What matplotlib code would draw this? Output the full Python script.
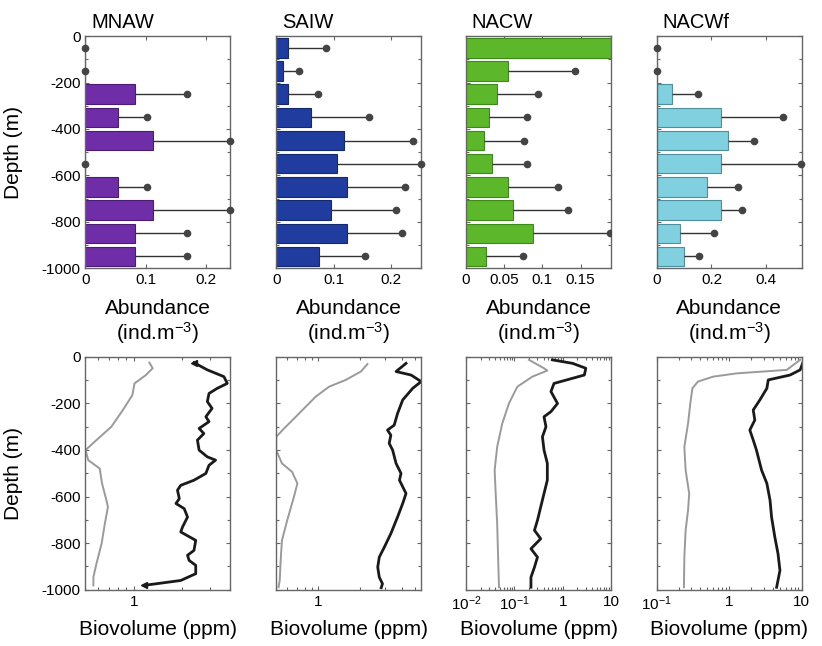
import matplotlib
matplotlib.use("Agg")
import matplotlib.pyplot as plt
import numpy as np
from matplotlib.ticker import MultipleLocator, FixedLocator, NullFormatter

plt.rcParams['font.family'] = ['Liberation Sans', 'DejaVu Sans']
plt.rcParams['mathtext.fontset'] = 'custom'
plt.rcParams['mathtext.rm'] = 'Liberation Sans'
plt.rcParams['mathtext.it'] = 'Liberation Sans'

# water masses
names = ['MNAW', 'SAIW', 'NACW', 'NACWf']
colors = ['#6f2da8', '#1f3c9e', '#5cb82a', '#80d0e0']
edges = ['#4a1d72', '#142a70', '#3e8a18', '#4f8f9c']

# top row: abundance per 100 m depth bin
bin_depth = [-50, -150, -250, -350, -450, -550, -650, -750, -850, -950]
abund_mnaw = [0, 0, 0.083, 0.054, 0.112, 0, 0.054, 0.112, 0.083, 0.083]
upper_mnaw = [0, 0, 0.169, 0.103, 0.241, 0, 0.103, 0.241, 0.169, 0.169]
abund_saiw = [0.021, 0.011, 0.021, 0.060, 0.117, 0.105, 0.123, 0.095, 0.123, 0.074]
upper_saiw = [0.087, 0.040, 0.072, 0.162, 0.238, 0.252, 0.223, 0.209, 0.219, 0.154]
abund_nacw = [0.20, 0.055, 0.040, 0.030, 0.023, 0.034, 0.055, 0.062, 0.088, 0.026]
upper_nacw = [0.30, 0.143, 0.094, 0.080, 0.076, 0.080, 0.120, 0.134, 0.189, 0.074]
abund_nacwf = [0, 0, 0.055, 0.236, 0.261, 0.236, 0.184, 0.236, 0.085, 0.099]
upper_nacwf = [0, 0, 0.152, 0.461, 0.355, 0.527, 0.297, 0.313, 0.210, 0.155]

abund = [abund_mnaw, abund_saiw, abund_nacw, abund_nacwf]
upper = [upper_mnaw, upper_saiw, upper_nacw, upper_nacwf]
abund_xlim = [0.241, 0.252, 0.19, 0.53]
abund_ticks = [[0, 0.1, 0.2], [0, 0.1, 0.2], [0, 0.05, 0.1, 0.15], [0, 0.2, 0.4]]
abund_ticklabels = [['0', '0.1', '0.2'], ['0', '0.1', '0.2'],
                    ['0', '0.05', '0.1', '0.15'], ['0', '0.2', '0.4']]

# bottom row: biovolume profiles (grey and black curves)
grey_d_mnaw = [26, 50, 79, 115, 165, 229, 301, 358, 401, 444, 480, 544, 616, 645, 716, 802, 888, 946, 981]
grey_v_mnaw = [1.25, 1.31, 1.19, 1.01, 0.98, 0.855, 0.724, 0.585, 0.5, 0.52, 0.613, 0.634, 0.675, 0.69, 0.66, 0.63, 0.585, 0.56, 0.56]
black_d_mnaw = [26, 57, 86, 115, 136, 158, 193, 222, 258, 279, 308, 330, 358, 401, 430, 444, 466, 501, 530, 552,
                573, 609, 630, 652, 688, 731, 752, 788, 831, 852, 874, 895, 931, 960, 981]
black_v_mnaw = [2.37, 2.87, 3.64, 3.82, 3.31, 2.94, 2.87, 3.07, 2.81, 2.94, 2.55, 2.73, 2.49, 2.55, 2.87, 3.23, 2.94, 2.81, 2.37, 1.96,
                1.87, 1.92, 1.83, 2.06, 2.16, 2.01, 1.96, 2.43, 2.37, 2.16, 2.21, 2.43, 2.43, 1.96, 1.16]

grey_d_saiw = [32, 64, 100, 129, 172, 244, 308, 344, 401, 458, 494, 544, 602, 702, 788, 860, 960, 989]
grey_v_saiw = [2.26, 2.03, 1.58, 1.20, 0.96, 0.73, 0.57, 0.5, 0.5, 0.55, 0.65, 0.71, 0.67, 0.60, 0.55, 0.54, 0.53, 0.52]
black_d_saiw = [29, 64, 79, 107, 136, 186, 244, 294, 315, 337, 372, 401, 458, 501, 530, 587, 630, 688, 759, 817, 860, 903, 946, 974, 991]
black_v_saiw = [4.28, 3.63, 4.65, 5.5, 4.78, 4.05, 3.72, 3.52, 3.15, 3.33, 3.24, 3.43, 3.63, 3.94, 3.84, 4.28, 4.05, 3.72, 3.33, 2.99,
                2.75, 2.68, 2.75, 2.90, 2.84]

grey_d_nacw = [14, 50, 60, 86, 129, 201, 287, 387, 487, 587, 716, 860, 989]
grey_v_nacw = [0.20, 0.41, 0.48, 0.235, 0.115, 0.077, 0.056, 0.044, 0.039, 0.041, 0.044, 0.046, 0.048]
black_d_nacw = [14, 29, 50, 79, 93, 115, 150, 201, 236, 258, 301, 344, 401, 458, 530, 587, 645, 702, 745, 781, 824, 860, 903, 946, 989]
black_v_nacw = [0.61, 1.6, 3.0, 2.8, 1.6, 0.66, 0.57, 0.78, 0.57, 0.41, 0.45, 0.38, 0.41, 0.48, 0.48, 0.41, 0.35, 0.30, 0.26, 0.35,
                0.22, 0.30, 0.26, 0.22, 0.22]

grey_d_nacwf = [14, 57, 72, 86, 107, 136, 201, 287, 387, 487, 587, 659, 745, 860, 989]
grey_v_nacwf = [9.5, 6.2, 1.26, 0.60, 0.37, 0.31, 0.29, 0.27, 0.24, 0.25, 0.28, 0.27, 0.25, 0.24, 0.237]
black_d_nacwf = [21, 57, 79, 100, 136, 186, 229, 272, 315, 358, 401, 487, 544, 616, 688, 774, 845, 917, 989]
black_v_nacwf = [10.5, 9.5, 6.9, 3.45, 3.3, 2.64, 2.14, 2.25, 1.92, 2.14, 2.37, 2.79, 3.3, 3.65, 3.83, 4.25, 4.7, 5.0, 4.5]

grey_d = [grey_d_mnaw, grey_d_saiw, grey_d_nacw, grey_d_nacwf]
grey_v = [grey_v_mnaw, grey_v_saiw, grey_v_nacw, grey_v_nacwf]
black_d = [black_d_mnaw, black_d_saiw, black_d_nacw, black_d_nacwf]
black_v = [black_v_mnaw, black_v_saiw, black_v_nacw, black_v_nacwf]
bio_xlim = [(0.5, 4.0), (0.5, 5.5), (0.01, 10), (0.1, 10)]
bio_ticks = [[1], [1], [0.01, 0.1, 1, 10], [0.1, 1, 10]]
bio_ticklabels = [['1'], ['1'], [r'$10^{-2}$', r'$10^{-1}$', '1', '10'], [r'$10^{-1}$', '1', '10']]

fig = plt.figure(figsize=(8.22, 6.46), dpi=100)
lefts = [0.104, 0.336, 0.567, 0.799]
w = 0.1764
spine_col = '#666666'


def style(ax, first):
    ax.set_ylim(-1000, 0)
    ax.yaxis.set_major_locator(MultipleLocator(200))
    ax.yaxis.set_minor_locator(MultipleLocator(100))
    ax.tick_params(which='both', direction='in', top=True, right=True, colors=spine_col,
                   labelcolor='black', labelsize=11, width=0.8)
    ax.tick_params(which='major', length=3)
    ax.tick_params(which='minor', length=2)
    for s in ax.spines.values():
        s.set_color(spine_col)
        s.set_linewidth(1.0)
    if first:
        ax.set_yticklabels([str(int(t)) for t in ax.get_yticks()])
        ax.set_ylabel('Depth (m)', fontsize=15)
        ax.yaxis.set_label_coords(-0.43, 0.5)
    else:
        ax.set_yticklabels([])


for i in range(4):
    # abundance panel
    ax = fig.add_axes([lefts[i], 0.585, w, 0.359])
    a = np.array(abund[i])
    u = np.array(upper[i])
    ax.barh(bin_depth, a, height=84, color=colors[i], edgecolor=edges[i], linewidth=0.8, zorder=2)
    ax.hlines(bin_depth, a, u, color='#333333', linewidth=1.0, zorder=3)
    ax.plot(u, bin_depth, 'o', color='#444444', markersize=4.5, zorder=4, clip_on=(i == 2))
    ax.set_xlim(0, abund_xlim[i])
    ax.xaxis.set_major_locator(FixedLocator(abund_ticks[i]))
    ax.set_xticklabels(abund_ticklabels[i])
    style(ax, i == 0)
    ax.set_xlabel('Abundance\n(ind.m$^{-3}$)', fontsize=15, linespacing=1.1, va='center')
    ax.xaxis.set_label_coords(0.5, -0.235)
    ax.set_title(names[i], fontsize=14.5, loc='left', pad=6, x=0.04)

    # biovolume panel
    bx = fig.add_axes([lefts[i], 0.087, w, 0.361])
    bx.set_xscale('log')
    bx.plot(grey_v[i], -np.array(grey_d[i]), color='#9a9a9a', linewidth=1.4)
    bx.plot(black_v[i], -np.array(black_d[i]), color='#1a1a1a', linewidth=2.0)
    if i == 0:
        bx.plot([black_v[i][0], black_v[i][-1]], [-black_d[i][0], -black_d[i][-1]], '<',
                color='#1a1a1a', markersize=4)
    bx.set_xlim(*bio_xlim[i])
    bx.xaxis.set_major_locator(FixedLocator(bio_ticks[i]))
    bx.set_xticklabels(bio_ticklabels[i])
    bx.xaxis.set_minor_formatter(NullFormatter())
    style(bx, i == 0)
    bx.set_xlabel('Biovolume (ppm)', fontsize=15, va='center')
    bx.xaxis.set_label_coords(0.5, -0.17)

fig.savefig('out.png', dpi=100)
